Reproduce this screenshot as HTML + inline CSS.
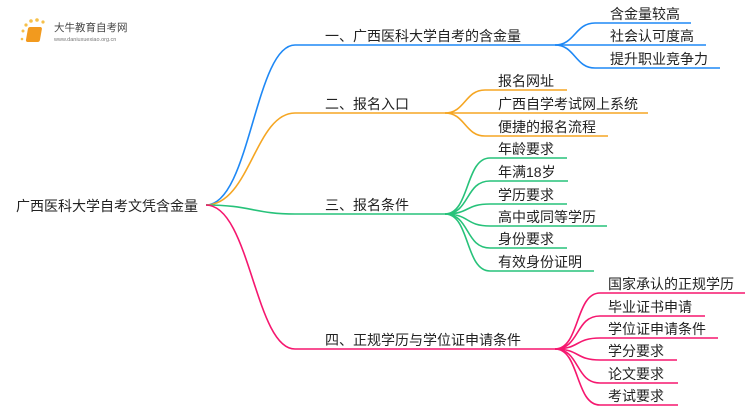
<!DOCTYPE html>
<html><head><meta charset="utf-8"><style>
html,body{margin:0;padding:0;background:#fff;width:750px;height:410px;overflow:hidden}
text{font-family:"Liberation Sans","Noto Sans CJK SC",sans-serif;fill:#222}
</style></head><body>
<svg width="750" height="410" viewBox="0 0 750 410" xmlns="http://www.w3.org/2000/svg">
<g>
<circle cx="23" cy="31" r="1.5" fill="#f6c04a"/><circle cx="26" cy="25" r="1.6" fill="#f6c04a"/><circle cx="31" cy="21" r="1.8" fill="#f6c04a"/><circle cx="37" cy="20" r="1.8" fill="#f6c04a"/><circle cx="43" cy="22" r="1.6" fill="#f6c04a"/><circle cx="22" cy="39" r="1.3" fill="#f6c04a"/>
<rect x="33" y="27" width="14" height="15" rx="2" fill="#f29a1e" transform="skewX(-10)"/>
<text x="54" y="31" font-size="10.5" style="fill:#444">大牛教育自考网</text>
<text x="54" y="41" font-size="5.5" style="fill:#777">www.daniuxuexiao.org.cn</text>
</g>
<g fill="none" stroke-width="1.6">
<path d="M206 205 C250 205,255 45,295 45 L555 45" stroke="#1e88f5"/>
<path d="M555 45 C575 45,575 23,595 23 L691 23" stroke="#1e88f5"/>
<path d="M555 45 L706 45" stroke="#1e88f5"/>
<path d="M555 45 C575 45,575 68,595 68 L720 68" stroke="#1e88f5"/>
<path d="M206 205 C250 205,255 113,295 113 L445 113" stroke="#f5a623"/>
<path d="M445 113 C465 113,465 90,485 90 L567 90" stroke="#f5a623"/>
<path d="M445 113 L648 113" stroke="#f5a623"/>
<path d="M445 113 C465 113,465 136,485 136 L608 136" stroke="#f5a623"/>
<path d="M206 205 C250 205,255 214,295 214 L445 214" stroke="#27c27a"/>
<path d="M445 214 C470 214,465 158,490 158 L567 158" stroke="#27c27a"/>
<path d="M445 214 C470 214,465 181,490 181 L568 181" stroke="#27c27a"/>
<path d="M445 214 C470 214,465 204,490 204 L567 204" stroke="#27c27a"/>
<path d="M445 214 C470 214,465 226,490 226 L607 226" stroke="#27c27a"/>
<path d="M445 214 C470 214,465 248,490 248 L567 248" stroke="#27c27a"/>
<path d="M445 214 C470 214,465 271,490 271 L594 271" stroke="#27c27a"/>
<path d="M206 205 C250 205,255 349,295 349 L555 349" stroke="#f5176f"/>
<path d="M555 349 C580 349,575 293,600 293 L745 293" stroke="#f5176f"/>
<path d="M555 349 C580 349,575 316,600 316 L705 316" stroke="#f5176f"/>
<path d="M555 349 C580 349,575 338,600 338 L718 338" stroke="#f5176f"/>
<path d="M555 349 C580 349,575 360,600 360 L677 360" stroke="#f5176f"/>
<path d="M555 349 C580 349,575 383,600 383 L678 383" stroke="#f5176f"/>
<path d="M555 349 C580 349,575 405,600 405 L678 405" stroke="#f5176f"/>
</g>
<g font-size="14">
<text x="16" y="211">广西医科大学自考文凭含金量</text>
<text x="325" y="41">一、广西医科大学自考的含金量</text>
<text x="325" y="109">二、报名入口</text>
<text x="325" y="210">三、报名条件</text>
<text x="325" y="345">四、正规学历与学位证申请条件</text>
<text x="610" y="19">含金量较高</text>
<text x="610" y="41">社会认可度高</text>
<text x="610" y="64">提升职业竞争力</text>
<text x="498" y="86">报名网址</text>
<text x="498" y="109">广西自学考试网上系统</text>
<text x="498" y="132">便捷的报名流程</text>
<text x="498" y="154">年龄要求</text>
<text x="498" y="177">年满18岁</text>
<text x="498" y="200">学历要求</text>
<text x="498" y="222">高中或同等学历</text>
<text x="498" y="244">身份要求</text>
<text x="498" y="267">有效身份证明</text>
<text x="608" y="289">国家承认的正规学历</text>
<text x="608" y="312">毕业证书申请</text>
<text x="608" y="334">学位证申请条件</text>
<text x="608" y="356">学分要求</text>
<text x="608" y="379">论文要求</text>
<text x="608" y="401">考试要求</text>
</g>
</svg>
</body></html>
